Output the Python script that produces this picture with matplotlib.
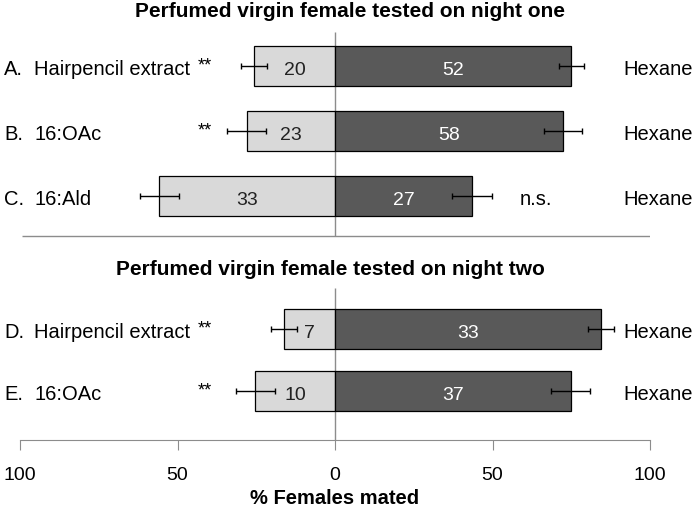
#MATING BAR CHART

import numpy as np
import matplotlib.pyplot as plt

plt.rcParams['font.family'] = ['Liberation Sans', 'DejaVu Sans']

#DATA

letters = ["A.", "B.", "C.", "D.", "E."]
treatments = ["Hairpencil extract", "16:OAc", "16:Ald", "Hairpencil extract", "16:OAc"]
signif = ["**", "**", "n.s.", "**", "**"]
perfumed_pct = [25.7, 28.0, 55.8, 16.1, 25.3]
perfumed_err = [4.1, 6.2, 6.2, 4.1, 6.1]
perfumed_n = [20, 23, 33, 7, 10]
hexane_pct = [75.0, 72.3, 43.5, 84.4, 74.9]
hexane_err = [4.0, 6.1, 6.2, 4.1, 6.2]
hexane_n = [52, 58, 27, 33, 37]
control = "Hexane"
titles = ["Perfumed virgin female tested on night one",
          "Perfumed virgin female tested on night two"]
xticks = [-100, -50, 0, 50, 100]
xticklabels = ["100", "50", "0", "50", "100"]

#LAYOUT

rows = np.array([0, 1, 2, 4.05, 5.0])
h = 0.62
light = "#d9d9d9"
dark = "#595959"
grey = "#8c8c8c"

fig = plt.figure(figsize=(6.97, 5.10), dpi=100)
ax = fig.add_axes([20/697, 1-441/510, 630/697, 441/510])
ax.set_xlim(-100, 100)
ax.set_ylim(5.754, -1.03)

ax.barh(rows, [-p for p in perfumed_pct], height=h, color=light, edgecolor="black", linewidth=0.9, zorder=2)
ax.barh(rows, hexane_pct, height=h, color=dark, edgecolor="black", linewidth=0.9, zorder=2)
ax.errorbar([-p for p in perfumed_pct], rows, xerr=perfumed_err, fmt="none", ecolor="black",
            elinewidth=1, capsize=2.5, zorder=3)
ax.errorbar(hexane_pct, rows, xerr=hexane_err, fmt="none", ecolor="black",
            elinewidth=1, capsize=2.5, zorder=3)

#ZERO LINES AND SEPARATOR

ax.vlines(0, -0.52, 2.615, color=grey, linewidth=1, zorder=1)
ax.vlines(0, 3.415, 5.754, color=grey, linewidth=1, zorder=1)
ax.hlines(2.615, -99.4, 101, color=grey, linewidth=1)

#TEXT

for i, y in enumerate(rows):
    ax.text(-105, y + 0.04, letters[i], fontsize=14.5, va="center", ha="left", clip_on=False)
    ax.text(-95.5, y + 0.04, treatments[i], fontsize=14.5, va="center", ha="left", clip_on=False)
    ax.text(-perfumed_pct[i]/2, y + 0.05, str(perfumed_n[i]), fontsize=14, va="center", ha="center", color="#222222")
    ax.text(hexane_pct[i]/2, y + 0.05, str(hexane_n[i]), fontsize=14, va="center", ha="center", color="white")
    ax.text(91.5, y + 0.04, control, fontsize=14.5, va="center", ha="left", clip_on=False)
    if signif[i] == "**":
        ax.text(-43.5, y - 0.02, signif[i], fontsize=13, va="center", ha="left")
    else:
        ax.text(58.5, y + 0.04, signif[i], fontsize=14.5, va="center", ha="left")

ax.text(4.8, -0.86, titles[0], fontsize=15, fontweight="bold", ha="center", va="center")
ax.text(-1.6, 3.12, titles[1], fontsize=15, fontweight="bold", ha="center", va="center")

#AXES

for s in ["top", "left", "right"]:
    ax.spines[s].set_visible(False)
ax.spines["bottom"].set_color(grey)
ax.set_yticks([])
ax.set_xticks(xticks)
ax.set_xticklabels(xticklabels, fontsize=14)
ax.tick_params(axis="x", direction="out", length=7, color=grey, pad=12)
ax.set_xlabel("% Females mated", fontsize=14.5, fontweight="bold", labelpad=3)

fig.savefig("out.png", dpi=100)
